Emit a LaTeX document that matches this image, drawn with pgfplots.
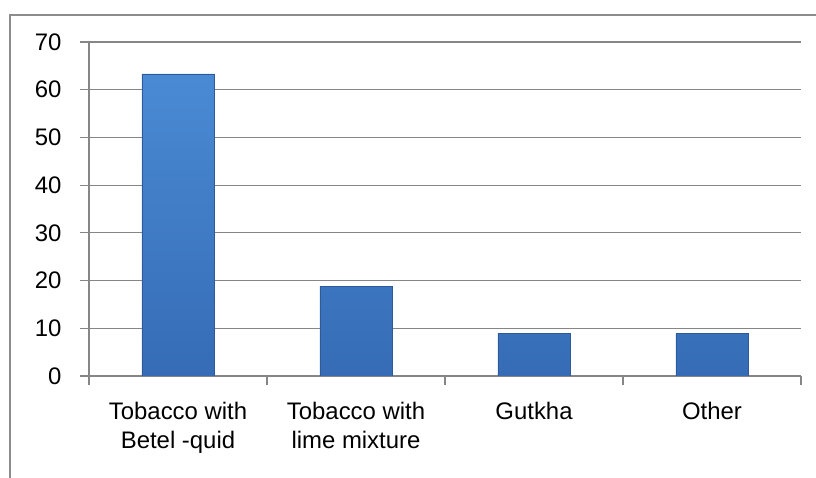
\documentclass[border=0pt]{standalone}
\usepackage{pgfplots}
\pgfplotsset{compat=1.18}
\usepackage{fontspec}
\setmainfont{Liberation Sans}
\definecolor{gridgray}{RGB}{134,134,134}
\definecolor{framegray}{RGB}{140,140,140}
\definecolor{bartop}{RGB}{74,138,212}
\definecolor{barbot}{RGB}{54,108,182}
\definecolor{baredge}{RGB}{45,90,155}
\begin{document}
\begin{tikzpicture}
\path[use as bounding box] (0,0) rectangle (816bp,478bp);
\draw[framegray, line width=1.5bp] (10bp,-2bp) -- (10bp,463bp) -- (818bp,463bp);
\begin{axis}[
  at={(89bp,102bp)}, anchor=south west,
  scale only axis, width=712bp, height=334bp,
  xmin=0, xmax=4, ymin=0, ymax=70,
  ytick={0,10,...,70},
  xtick={0.5,1.5,2.5,3.5},
  xticklabels={{Tobacco with\\Betel -quid},{Tobacco with\\lime mixture},{Gutkha},{Other}},
  minor xtick={0,1,2,3,4},
  major x tick style={draw=none},
  minor tick length=9bp,
  major tick length=9bp,
  tick align=outside,
  tick style={gridgray, line width=1.2bp},
  ymajorgrids, grid style={gridgray, line width=1.2bp},
  axis x line*=bottom, axis y line*=left,
  axis line style={gridgray, line width=1.2bp},
  x axis line style={-}, y axis line style={-},
  /pgf/number format/assume math mode=true,
  ticklabel style={font=\fontsize{24}{29}\selectfont},
  xticklabel style={align=center, anchor=north, yshift=-14bp},
  yticklabel style={anchor=east, xshift=-15bp},
  ybar, bar width=0.405,
]
\addplot[draw=baredge, line width=0.6bp, top color=bartop, bottom color=barbot]
  coordinates {(0.5,63.3) (1.5,18.8) (2.5,8.9) (3.5,8.9)};
\end{axis}
\end{tikzpicture}
\end{document}
